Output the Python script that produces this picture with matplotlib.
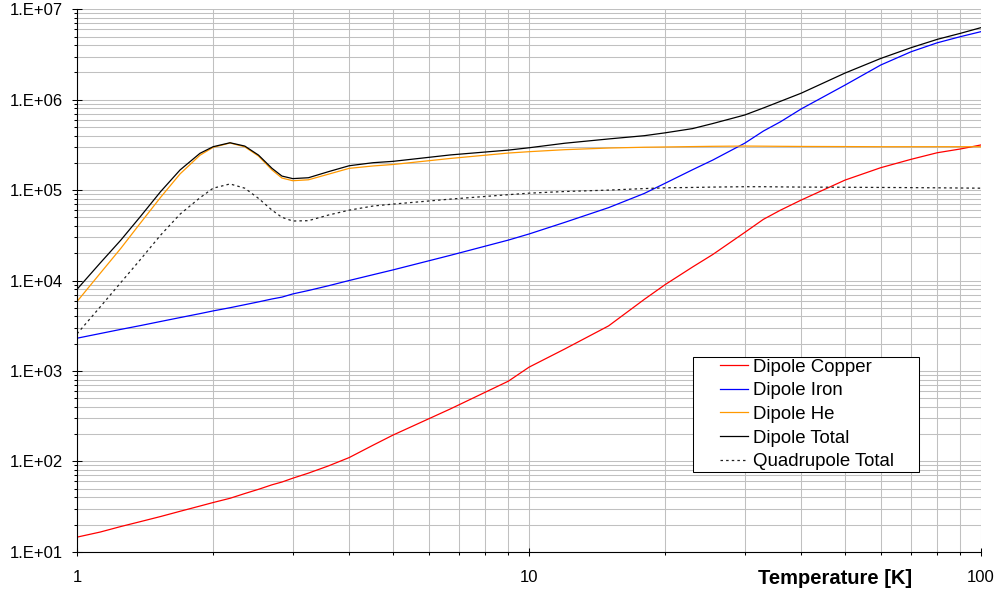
import matplotlib.pyplot as plt
from matplotlib.legend_handler import HandlerLine2D
from matplotlib.lines import Line2D
from matplotlib.ticker import LogLocator, NullFormatter

plt.rcParams['font.family'] = 'Liberation Sans'

# temperature points [K]
temperature = [1, 1.125, 1.25, 1.38, 1.53, 1.69, 1.87, 2, 2.18, 2.35, 2.52, 2.7, 2.84, 3, 3.25, 3.6, 4, 4.52, 5,
               6.7, 9, 10, 12, 15, 18, 20, 23, 25.5, 30, 33, 36, 40, 50, 60, 70, 80, 90, 100]

dipole_copper = [14.5, 16.5, 19, 21.5, 24.5, 28, 32, 35, 39, 44, 49, 55, 59, 65, 74, 89, 110, 151, 195,
                 380, 770, 1100, 1750, 3150, 6200, 9000, 14100, 19400, 34000, 47500, 60000, 77600,
                 129000, 177000, 219000, 259000, 285000, 316000]

dipole_iron = [2300, 2590, 2880, 3170, 3520, 3890, 4300, 4610, 5000, 5400, 5800, 6250, 6550, 7100, 7750, 8750,
               10000, 11600, 13100,
               19000, 28000, 32700, 44000, 64000, 92000, 119000, 168000, 215000, 330000, 450000, 570000, 790000,
               1450000, 2420000, 3390000, 4260000, 4980000, 5660000]

dipole_he = [5860, 12000, 22700, 43000, 83000, 151000, 243000, 297000, 332000, 301000, 238000, 167000, 136000,
             127000, 130000, 150000, 174000, 185000, 192000,
             224000, 257000, 266000, 280000, 292000, 298000, 300000, 303000, 305000, 307000, 306000, 305000,
             304000, 303000, 302000, 302000, 302000, 302000, 302000]

dipole_total = [8000, 15600, 28000, 50800, 96000, 167000, 255000, 302000, 334000, 307000, 244000, 174000, 143000,
                134000, 137000, 160000, 186000, 201000, 208000,
                245000, 277000, 294000, 330000, 368000, 400000, 430000, 479000, 545000, 677000, 810000, 960000,
                1180000, 1970000, 2860000, 3760000, 4650000, 5420000, 6270000]

quadrupole_total = [2570, 5100, 9500, 17000, 31700, 54200, 82200, 105000, 117000, 105000, 81000, 60000, 50000,
                    45500, 45900, 53000, 60000, 66700, 70000,
                    79500, 89000, 92500, 96500, 100000, 104000, 106000, 107000, 108000, 109000, 109000, 108500,
                    108000, 107500, 107000, 106500, 106000, 105500, 105000]

x_ticks = [1, 10, 100]
x_tick_labels = ['1', '10', '100']
y_ticks = [1e1, 1e2, 1e3, 1e4, 1e5, 1e6, 1e7]
y_tick_labels = ['1.E+01', '1.E+02', '1.E+03', '1.E+04', '1.E+05', '1.E+06', '1.E+07']

fig = plt.figure(figsize=(9.98, 5.96), dpi=100)
ax = fig.add_axes([0.0772, 0.0743, 0.9058, 0.9101])

ax.plot(temperature, dipole_copper, color='#ff0000', lw=0.9, label='Dipole Copper')
ax.plot(temperature, dipole_iron, color='#0000ff', lw=0.9, label='Dipole Iron')
ax.plot(temperature, dipole_he, color='#ff9900', lw=0.9, label='Dipole He')
ax.plot(temperature, dipole_total, color='black', lw=0.9, label='Dipole Total')
ax.plot(temperature, quadrupole_total, color='#202020', lw=0.9, ls=(0, (2, 2.5)), label='Quadrupole Total')

ax.set_xscale('log')
ax.set_yscale('log')
ax.set_xlim(1, 100)
ax.set_ylim(10, 1e7)

ax.set_xticks(x_ticks, labels=x_tick_labels)
ax.set_yticks(y_ticks, labels=y_tick_labels)
ax.xaxis.set_minor_locator(LogLocator(base=10, subs=range(2, 10), numticks=100))
ax.yaxis.set_minor_locator(LogLocator(base=10, subs=range(2, 10), numticks=100))
ax.xaxis.set_minor_formatter(NullFormatter())
ax.yaxis.set_minor_formatter(NullFormatter())

ax.set_axisbelow(True)
ax.grid(True, which='both', color='#c0c0c0', lw=0.75)

ax.spines['top'].set_visible(False)
ax.spines['right'].set_visible(False)
ax.spines['left'].set_linewidth(0.8)
ax.spines['bottom'].set_linewidth(0.8)

ax.tick_params(axis='y', which='major', direction='inout', length=6.5, width=0.75, labelsize=12, pad=6.8)
ax.tick_params(axis='x', which='major', direction='inout', length=5.5, width=0.75, labelsize=12, pad=10.5)
ax.tick_params(axis='both', which='minor', direction='out', length=2.2, width=0.75)

ax.set_xlabel('Temperature [K]', fontsize=14.5, fontweight='bold')
ax.xaxis.label.set_va('baseline')
ax.xaxis.set_label_coords(0.8381, -0.0596)

leg = ax.legend(loc='lower left', bbox_to_anchor=(0.6814, 0.1464, 0.2497, 0.2), mode='expand',
                borderaxespad=0, fontsize=13.4, fancybox=False, edgecolor='black', framealpha=1,
                borderpad=0.1, labelspacing=0.36, handlelength=2.85, handletextpad=0.25,
                handler_map={Line2D: HandlerLine2D(xpad=1.35)})
leg.get_frame().set_linewidth(0.75)

plt.savefig('out.png', dpi=100)
